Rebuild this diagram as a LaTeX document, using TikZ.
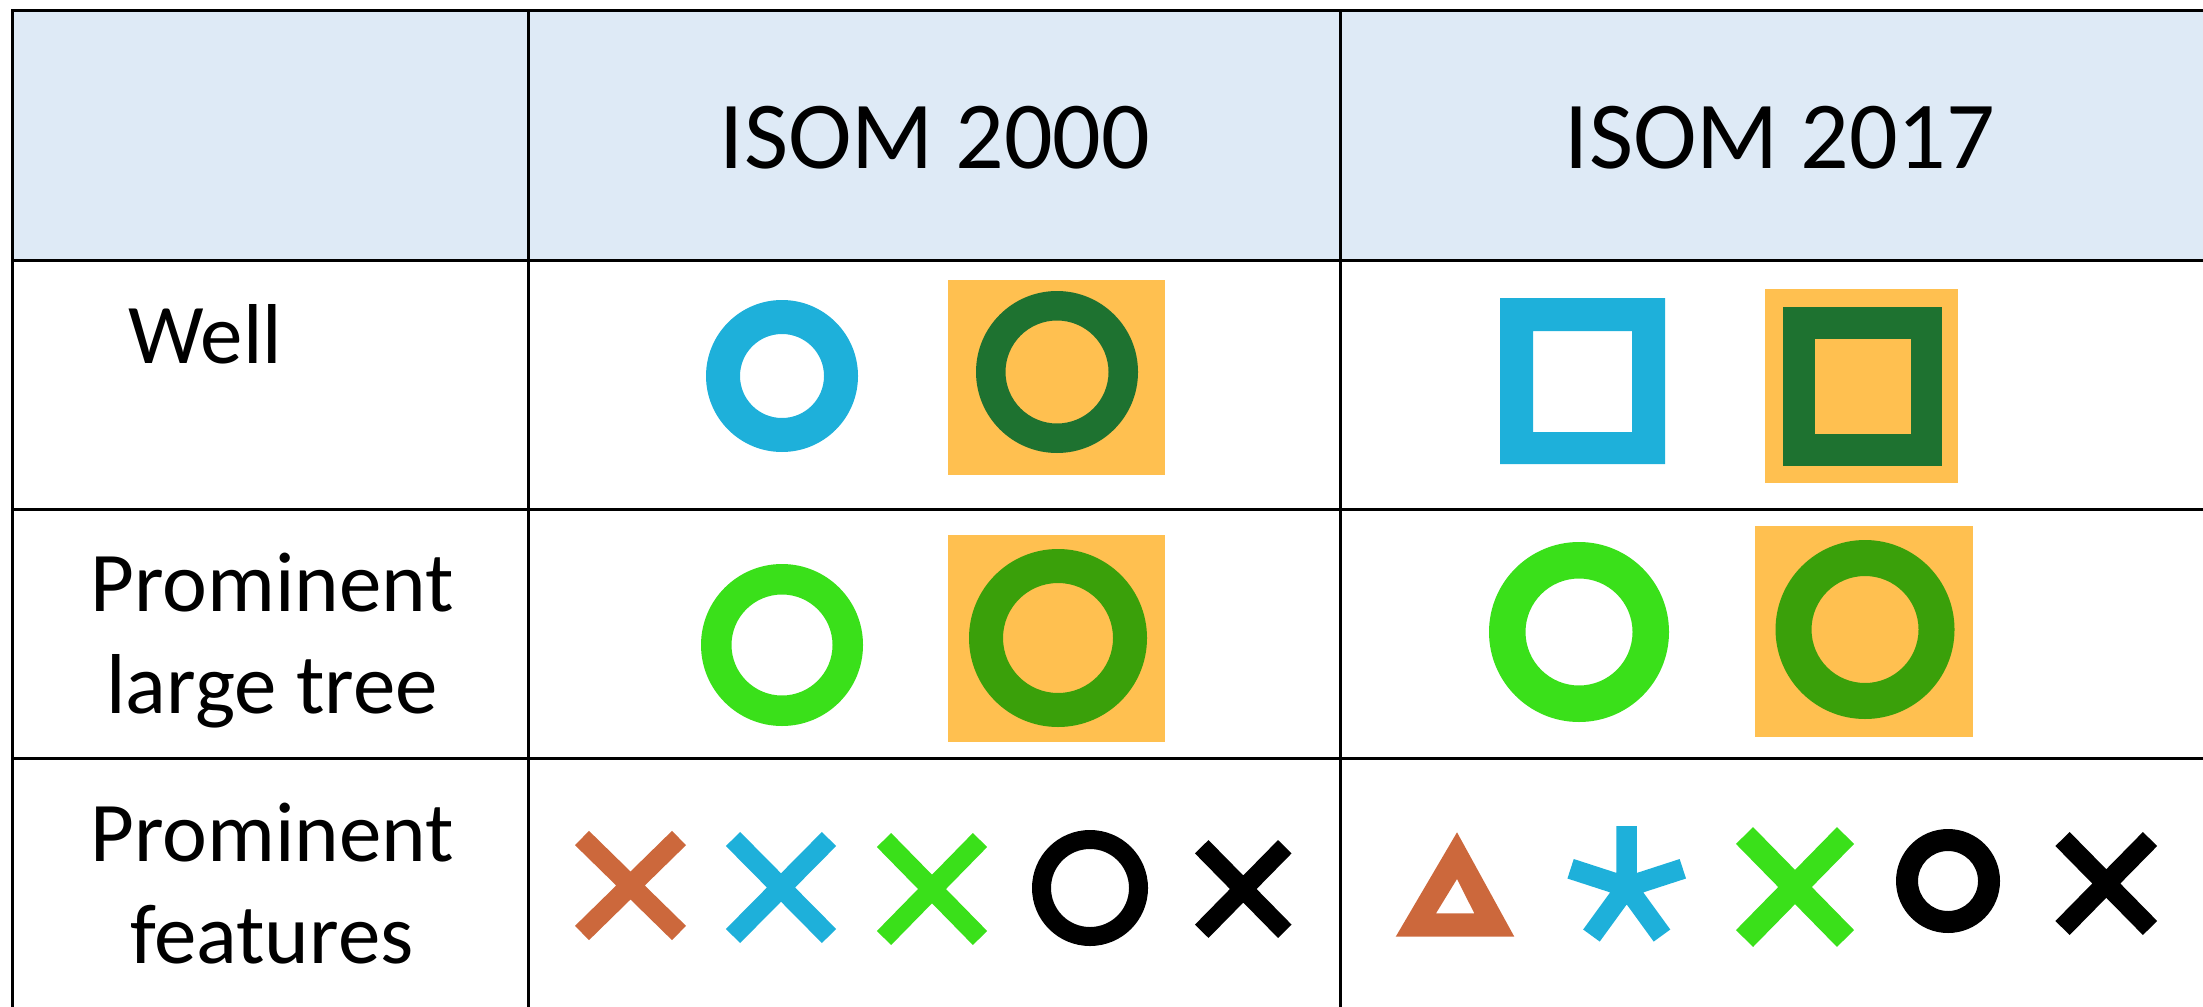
\documentclass[tikz,border=0pt]{standalone}
\usepackage{fontspec}
\setmainfont{Carlito}
\definecolor{hdrfill}{HTML}{DEEAF6}
\definecolor{symblue}{HTML}{1EB0DA}
\definecolor{symorange}{HTML}{FFC050}
\definecolor{symdkgreen}{HTML}{1E7230}
\definecolor{symgreen}{HTML}{3AE01A}
\definecolor{symmdgreen}{HTML}{3AA00A}
\definecolor{symbrown}{HTML}{CC683C}
\begin{document}
\begin{tikzpicture}[x=0.5pt,y=-0.5pt,
  gridline/.style={line width=1.5pt, draw=black},
  ring/.style={even odd rule},
  xarm/.style={line cap=butt, line width=10pt},
  hdrtext/.style={inner sep=0pt, font=\fontsize{48}{58}\selectfont},
  celltext/.style={inner sep=0pt, align=center, font=\fontsize{42.5}{51}\selectfont}]
\useasboundingbox (0,0) rectangle (2203,1006);
% header background
\fill[hdrfill] (12.5,11) rectangle (2215,260);
% grid
\draw[gridline] (2215,11) -- (12.5,11) -- (12.5,1015);
\draw[gridline] (12.5,260) -- (2215,260);
\draw[gridline] (12.5,509) -- (2215,509);
\draw[gridline] (12.5,758) -- (2215,758);
\draw[gridline] (528.5,11) -- (528.5,1015);
\draw[gridline] (1340,11) -- (1340,1015);
% texts
\node[hdrtext, anchor=base] (h2000) at (935,168) {ISOM 2000};
\node[hdrtext, anchor=base] (h2017) at (1780,168) {ISOM 2017};
\node[celltext, anchor=base west] (well) at (128,363) {Well};
\node[celltext, anchor=base] (tree) at (272,713) {Prominent\\large tree};
\node[celltext, anchor=base] (feat) at (272,963) {Prominent\\features};
% row 1: well
\fill[symblue, ring] (782,376) circle[radius=76] (782,376) circle[radius=42];
\fill[symorange] (948,280) rectangle (1165,475);
\fill[symdkgreen, ring] (1057,372) circle[radius=81] (1057,372) circle[radius=51.5];
\fill[symblue, ring] (1500,298) rectangle (1665,464) (1533,331) rectangle (1632,432);
\fill[symorange] (1765,289) rectangle (1958,483);
\fill[symdkgreen] (1783,307) rectangle (1942,466);
\fill[symorange] (1815,339) rectangle (1911,434);
% row 2: prominent large tree
\fill[symgreen, ring] (782,645) circle[radius=81] (782,645) circle[radius=50.5];
\fill[symorange] (948,535) rectangle (1165,742);
\fill[symmdgreen, ring] (1058,638) circle[radius=89] (1058,638) circle[radius=55];
\fill[symgreen, ring] (1579,632) circle[radius=90] (1579,632) circle[radius=53.5];
\fill[symorange] (1754.5,526) rectangle (1973,737);
\fill[symmdgreen, ring] (1865,629.5) circle[radius=89.5] (1865,629.5) circle[radius=53.5];
% row 3: prominent features, ISOM 2000
\draw[xarm, symbrown] (582,838) -- (679,933) (582,933) -- (679,838);
\draw[xarm, symblue] (733,839) -- (829,936) (733,936) -- (829,839);
\draw[xarm, symgreen] (884,840) -- (980,938) (884,938) -- (980,840);
\fill[black, ring] (1090,888) circle[radius=58] (1090,888) circle[radius=39];
\draw[xarm, black, line width=9.5pt] (1201.7,846.7) -- (1284.8,931.3) (1201.7,931.3) -- (1284.8,846.7);
% row 3: ISOM 2017
\fill[symbrown, ring] (1457,832.3) -- (1395.7,936.7) -- (1514.3,936.7) -- cycle
  (1457,879) -- (1436,913.3) -- (1474.3,913.3) -- cycle;
\coordinate (ast) at (1626.7,887);
\draw[symblue, line width=10.25pt, line cap=butt]
  (ast) -- ++(-90:61) (ast) -- ++(198:59) (ast) -- ++(-18:59)
  (ast) -- ++(126:60) (ast) -- ++(54:60);
\draw[xarm, symgreen, line width=12pt] (1744.5,835.5) -- (1845.5,938.5) (1744.5,938.5) -- (1845.5,835.5);
\fill[black, ring] (1948,881) circle[radius=52] (1948,881) circle[radius=30];
\draw[xarm, black] (2062.5,839) -- (2150,928) (2062.5,928) -- (2150,839);
\end{tikzpicture}
\end{document}
